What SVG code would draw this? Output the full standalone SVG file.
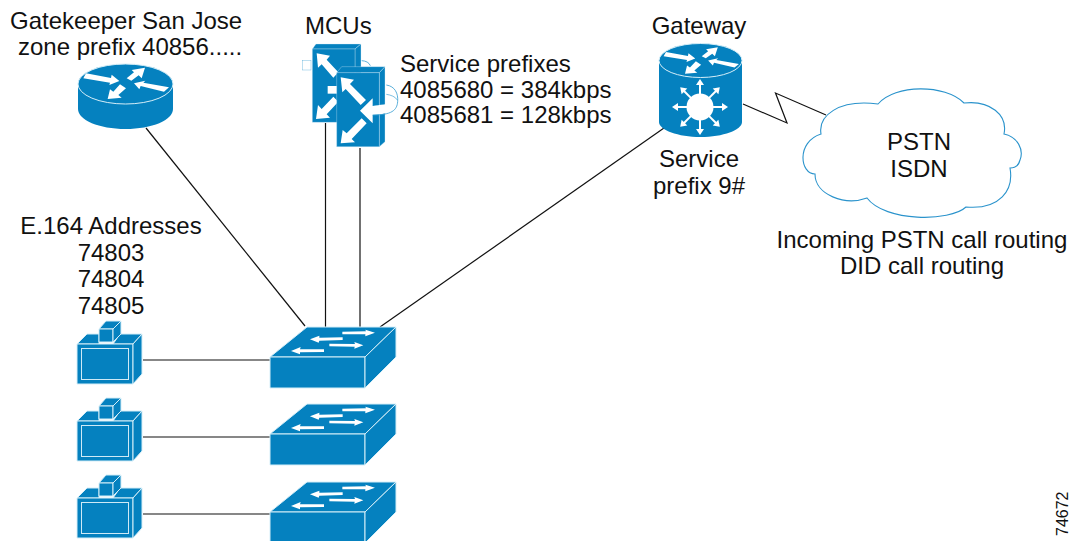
<svg xmlns="http://www.w3.org/2000/svg" width="1076" height="541" viewBox="0 0 1076 541">
<style>
text{font-family:"Liberation Sans",Arial,sans-serif;font-size:24px;fill:#111}
.c{text-anchor:middle}
.b{fill:#0581bf}
.e{stroke:#d5eef8;stroke-width:1;stroke-linejoin:round}
.w{fill:#fff}
.l{stroke:#111;stroke-width:1.2;fill:none}
.cloud{fill:#fff;stroke:#2a93cc;stroke-width:1.1}
.o{fill:#fff;stroke:#3ba0d2;stroke-width:1}
</style>
<defs>
<g id="rarrows" class="w">
<polygon points="78,70 153,84 155,74 178,93 148,105 150,98 70,85"/>
<polygon points="200,85 222,67 215,60 255,53 245,85 236,76 214,92"/>
<polygon points="327,112 312,125 242,108 238,118 222,100 256,92 250,98"/>
<polygon points="180,103 198,115 175,135 185,143 143,147 150,118 160,125"/>
</g>
<g id="switch">
<polygon class="b e" points="307,327 396,327 365,357 270,357"/>
<polygon class="b e" points="270,357 365,357 365,388 270,388"/>
<polygon class="b e" points="365,357 396,327 396,357 365,388"/>
<g class="w" transform="translate(260,315) scale(.33333)">
<polygon points="247,50 318,49 316,44 345,53 316,64 316,58 247,58"/>
<polygon points="248,67 178,68 178,62 150,73 176,83 178,77 248,75"/>
<polygon points="208,86 285,87 283,81 310,91 283,101 284,95 208,94"/>
<polygon points="192,103 120,103 122,96 93,108 120,118 120,112 192,111"/>
</g>
</g>
<g id="term">
<polygon class="b e" points="77,344 87,334 99,334 99,344"/>
<polygon class="b e" points="113,344 120,334 142,334 133,344"/>
<polygon class="b e" points="99,329 106,321 121,321 113,329"/>
<polygon class="b e" points="99,329 113,329 113,342 99,342"/>
<polygon class="b e" points="113,329 121,321 121,334 113,342"/>
<polygon class="b e" points="77,344 133,344 133,384 77,384"/>
<polygon class="b e" points="133,344 142,334 142,374 133,384"/>
<rect x="81.500" y="348.500" width="47" height="31" fill="none" stroke="#cfeaf6" stroke-width="1"/>
</g>
<g id="ray" class="w">
<rect x="9" y="-1" width="14" height="2"/>
<polygon points="22,-4 28,0 22,4"/>
</g>
</defs>
<g id="connectors" class="l">
<line x1="146" y1="128" x2="305" y2="326"/>
<line x1="325.500" y1="123" x2="325.500" y2="327"/>
<line x1="360" y1="148" x2="360" y2="327"/>
<line x1="664" y1="128" x2="380" y2="327"/>
<line x1="143" y1="360" x2="270" y2="360"/>
<line x1="143" y1="437" x2="270" y2="437"/>
<line x1="143" y1="514" x2="270" y2="514"/>
<polyline points="743,104 787,123 775.500,93 826,115"/>
</g>
<g id="gatekeeper">
<path class="b" d="M78,84V109C78,120 99,129 125.500,129S173,120 173,109V84Z"/>
<ellipse class="b e" cx="125.500" cy="84" rx="47.500" ry="20"/>
<use href="#rarrows" transform="translate(60,50) scale(.33333)"/>
<text x="10" y="29">Gatekeeper San Jose</text>
<text x="18" y="55">zone prefix 40856.....</text>
</g>
<g id="mcus">
<g transform="translate(290,45) scale(.33333)">
<rect class="o" x="37" y="47" width="26" height="28"/>
<path d="M215,47Q235,48 241,62" fill="none" stroke="#3ba0d2" stroke-width="2.500"/>
<polygon class="b e" points="67,12 78,-3 213,-3 195,12"/>
<polygon class="b e" points="195,12 213,-3 213,210 195,232"/>
<polygon class="b e" points="67,12 195,12 195,232 67,232"/>
<polygon class="w" points="80,25 120,32 110,44 145,82 130,98 95,58 84,68"/>
<polygon class="w" points="78,222 84,180 95,192 130,155 145,170 110,208 120,218"/>
<rect class="w" x="113" y="123" width="30" height="23"/>
</g>
<g transform="translate(290,45) scale(.33333)">
<polygon class="b e" points="140,83 155,65 285,65 268,83"/>
<polygon class="b e" points="268,83 285,65 285,290 268,305"/>
<polygon class="b e" points="140,83 268,83 268,305 140,305"/>
<polygon class="w" points="152,97 192,104 180,117 228,165 212,180 167,132 157,142"/>
<polygon class="w" points="152,295 158,255 170,265 215,220 230,235 185,282 195,292"/>
<path class="w" d="M210,197L248,160V183C270,180 290,178 322,172C318,195 300,208 248,210V235Z"/>
<path d="M289,120C315,124 325,145 323,170C321,196 305,210 248,210" fill="none" stroke="#3ba0d2" stroke-width="2.500"/>
<path d="M289,148C303,150 316,155 322,165" fill="none" stroke="#3ba0d2" stroke-width="2"/>
</g>
<text x="305" y="34">MCUs</text>
<text x="400" y="72">Service prefixes</text>
<text x="400" y="98">4085680 = 384kbps</text>
<text x="400" y="123">4085681 = 128kbps</text>
</g>
<g id="gateway">
<path class="b" d="M659,60.500V122C659,130 678,137 700.500,137S742,130 742,122V60.500Z"/>
<ellipse class="b e" cx="700.500" cy="60.500" rx="41.500" ry="17"/>
<use href="#rarrows" transform="translate(643.100,32.200) scale(.293,.283)"/>
<circle class="w" cx="700" cy="107" r="13.500"/>
<use href="#ray" transform="translate(700,107)"/>
<use href="#ray" transform="translate(700,107) rotate(45)"/>
<use href="#ray" transform="translate(700,107) rotate(90)"/>
<use href="#ray" transform="translate(700,107) rotate(135)"/>
<use href="#ray" transform="translate(700,107) rotate(180)"/>
<use href="#ray" transform="translate(700,107) rotate(225)"/>
<use href="#ray" transform="translate(700,107) rotate(270)"/>
<use href="#ray" transform="translate(700,107) rotate(315)"/>
<text class="c" x="699" y="34">Gateway</text>
<text class="c" x="699" y="167">Service</text>
<text class="c" x="699" y="194">prefix 9#</text>
</g>
<g id="pstn">
<path class="cloud" d="M821,134C818,116 838,99 878,104C895,84 945,84 964,103C990,100 1008,115 1004,134C1018,137 1024,150 1020,160C1018,168 1012,168 1010,168C1014,190 1000,210 966,207C950,222 885,222 867,198C845,206 815,195 815,174C800,174 796,142 821,134Z"/>
<text class="c" x="919" y="150">PSTN</text>
<text class="c" x="919" y="177">ISDN</text>
<text class="c" x="922" y="248">Incoming PSTN call routing</text>
<text class="c" x="922" y="274">DID call routing</text>
</g>
<g id="endpoints-label">
<text class="c" x="111" y="234">E.164 Addresses</text>
<text class="c" x="111" y="261">74803</text>
<text class="c" x="111" y="287">74804</text>
<text class="c" x="111" y="314">74805</text>
</g>
<g id="switch1"><use href="#switch"/></g>
<g id="switch2"><use href="#switch" y="77"/></g>
<g id="switch3"><use href="#switch" y="155"/></g>
<g id="terminal1"><use href="#term"/></g>
<g id="terminal2"><use href="#term" y="77"/></g>
<g id="terminal3"><use href="#term" y="154"/></g>
<text transform="translate(1068,536) rotate(-90)" style="font-size:16px">74672</text>
</svg>
